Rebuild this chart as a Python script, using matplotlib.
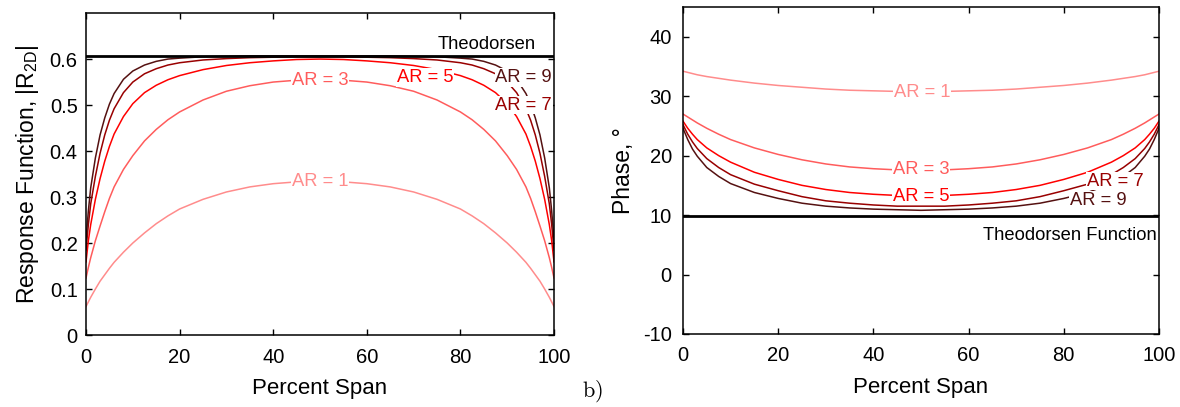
import numpy as np
import matplotlib
matplotlib.use("Agg")
import matplotlib.pyplot as plt

plt.rcParams['font.family'] = ['Liberation Sans', 'DejaVu Sans']
plt.rcParams['mathtext.default'] = 'regular'
plt.rcParams['axes.unicode_minus'] = False

# left panel: |R_2D| vs percent span
span_mag = [0, 0.5, 1, 2, 3, 4, 5, 6, 8, 10, 12.5, 15, 17.5, 20, 25, 30, 35, 40, 45, 50,
            55, 60, 65, 70, 75, 80, 82.5, 85, 87.5, 90, 92, 94, 95, 96, 97, 98, 99, 99.5, 100]
mag_ar1 = [0.062, 0.072, 0.082, 0.100, 0.117, 0.131, 0.145, 0.158, 0.180, 0.200, 0.222, 0.242, 0.259, 0.274,
           0.295, 0.311, 0.322, 0.329, 0.333, 0.335,
           0.333, 0.329, 0.322, 0.311, 0.295, 0.274, 0.259, 0.242, 0.222, 0.200, 0.180, 0.158, 0.145,
           0.131, 0.117, 0.100, 0.082, 0.072, 0.062]
mag_ar3 = [0.124, 0.147, 0.168, 0.205, 0.237, 0.268, 0.297, 0.322, 0.360, 0.390, 0.422, 0.447, 0.468, 0.485,
           0.511, 0.530, 0.542, 0.550, 0.554, 0.555,
           0.554, 0.550, 0.542, 0.530, 0.511, 0.485, 0.468, 0.447, 0.422, 0.390, 0.360, 0.322, 0.297,
           0.268, 0.237, 0.205, 0.168, 0.147, 0.124]
mag_ar5 = [0.159, 0.205, 0.240, 0.295, 0.340, 0.378, 0.410, 0.437, 0.475, 0.503, 0.527, 0.543, 0.555, 0.564,
           0.577, 0.586, 0.592, 0.596, 0.599, 0.600,
           0.599, 0.596, 0.592, 0.586, 0.577, 0.564, 0.555, 0.543, 0.527, 0.503, 0.475, 0.437, 0.410,
           0.378, 0.340, 0.295, 0.240, 0.205, 0.159]
mag_ar7 = [0.185, 0.240, 0.285, 0.345, 0.395, 0.435, 0.467, 0.492, 0.527, 0.550, 0.568, 0.579, 0.587, 0.592,
           0.598, 0.601, 0.603, 0.604, 0.605, 0.605,
           0.605, 0.604, 0.603, 0.601, 0.598, 0.592, 0.587, 0.579, 0.568, 0.550, 0.527, 0.492, 0.467,
           0.435, 0.395, 0.345, 0.285, 0.240, 0.185]
mag_ar9 = [0.207, 0.270, 0.320, 0.385, 0.435, 0.472, 0.502, 0.525, 0.556, 0.574, 0.587, 0.595, 0.600, 0.602,
           0.605, 0.606, 0.607, 0.607, 0.607, 0.607,
           0.607, 0.607, 0.607, 0.606, 0.605, 0.602, 0.600, 0.595, 0.587, 0.574, 0.556, 0.525, 0.502,
           0.472, 0.435, 0.385, 0.320, 0.270, 0.207]
theo_mag = 0.606

# right panel: phase (deg) vs percent span
span_ph = [0, 1, 2, 3, 5, 7.5, 10, 15, 20, 25, 30, 35, 40, 45, 50,
           55, 60, 65, 70, 75, 80, 85, 90, 92.5, 95, 97, 98, 99, 100]
ph_ar1 = [34.2, 34.0, 33.8, 33.6, 33.3, 33.0, 32.7, 32.2, 31.8, 31.5, 31.2, 31.0, 30.9, 30.8, 30.8,
          30.8, 30.9, 31.0, 31.2, 31.5, 31.8, 32.2, 32.7, 33.0, 33.3, 33.6, 33.8, 34.0, 34.2]
ph_ar3 = [27.0, 26.5, 26.0, 25.5, 24.6, 23.6, 22.7, 21.3, 20.2, 19.3, 18.6, 18.1, 17.8, 17.6, 17.6,
          17.6, 17.8, 18.1, 18.6, 19.3, 20.2, 21.3, 22.7, 23.6, 24.6, 25.5, 26.0, 26.5, 27.0]
ph_ar5 = [25.8, 24.6, 23.6, 22.7, 21.3, 20.0, 18.9, 17.2, 16.0, 15.0, 14.3, 13.8, 13.5, 13.3, 13.2,
          13.3, 13.5, 13.8, 14.3, 15.0, 16.0, 17.2, 18.9, 20.0, 21.3, 22.7, 23.6, 24.6, 25.8]
ph_ar7 = [25.2, 23.6, 22.3, 21.2, 19.5, 18.0, 16.8, 15.2, 14.1, 13.1, 12.4, 12.0, 11.7, 11.5, 11.5,
          11.5, 11.7, 12.0, 12.4, 13.1, 14.1, 15.2, 16.8, 18.0, 19.5, 21.2, 22.3, 23.6, 25.2]
ph_ar9 = [24.6, 22.7, 21.1, 19.9, 18.0, 16.5, 15.3, 13.8, 12.8, 12.0, 11.5, 11.2, 11.0, 10.9, 10.8,
          10.9, 11.0, 11.2, 11.5, 12.0, 12.8, 13.8, 15.3, 16.5, 18.0, 19.9, 21.1, 22.7, 24.6]
theo_ph = 9.8

labels = ['AR = 1', 'AR = 3', 'AR = 5', 'AR = 7', 'AR = 9']
colors = ['#ff8c8c', '#ff5c5c', '#ff0000', '#990000', '#551111']

fig = plt.figure(figsize=(11.8, 4.07), dpi=100)
ax1 = fig.add_axes([0.0729, 0.1769, 0.3966, 0.791])
ax2 = fig.add_axes([0.5788, 0.1794, 0.4034, 0.8034])

for ax in (ax1, ax2):
    ax.tick_params(direction='in', top=True, right=True, length=4, width=1, labelsize=14.5)
    ax.tick_params(axis='x', pad=9)
    for s in ax.spines.values():
        s.set_linewidth(1.1)
ax1.tick_params(axis='y', pad=6)
ax2.tick_params(axis='y', pad=8)

box = dict(facecolor='white', edgecolor='none', pad=0.5)

mags = [mag_ar1, mag_ar3, mag_ar5, mag_ar7, mag_ar9]
for m, c in zip(mags, colors):
    ax1.plot(span_mag, m, color=c, lw=1.1)
ax1.axhline(theo_mag, color='black', lw=2)
ax1.text(96, 0.632, 'Theodorsen', fontsize=13.2, ha='right', va='center')
# label positions (x, y) for each AR
mag_lab = [(50, 0.333), (50, 0.554), (72.4, 0.56), (93.5, 0.50), (93.5, 0.56)]
for (lx, ly), t, c in zip(mag_lab, labels, colors):
    ax1.text(lx, ly, t, color=c, fontsize=13.2, ha='center', va='center', bbox=box, zorder=5)
ax1.set_xlim(0, 100)
ax1.set_ylim(0, 0.7)
ax1.set_yticks([0, 0.1, 0.2, 0.3, 0.4, 0.5, 0.6])
ax1.set_yticklabels(['0', '0.1', '0.2', '0.3', '0.4', '0.5', '0.6'])
ax1.set_xticks([0, 20, 40, 60, 80, 100])
ax1.set_xlabel('Percent Span', fontsize=16, labelpad=8)
ax1.set_ylabel(r'Response Function, |R$_{2D}$|', fontsize=16.5, labelpad=6)

phs = [ph_ar1, ph_ar3, ph_ar5, ph_ar7, ph_ar9]
for p, c in zip(phs, colors):
    ax2.plot(span_ph, p, color=c, lw=1.1)
ax2.axhline(theo_ph, color='black', lw=2)
ax2.text(99.6, 6.5, 'Theodorsen Function', fontsize=13.2, ha='right', va='center')
ph_lab = [(50.2, 30.6), (50, 17.6), (50, 13.2), (90.8, 15.7), (87.2, 12.5)]
for (lx, ly), t, c in zip(ph_lab, labels, colors):
    ax2.text(lx, ly, t, color=c, fontsize=13.2, ha='center', va='center', bbox=box, zorder=5)
ax2.set_xlim(0, 100)
ax2.set_ylim(-10, 45)
ax2.set_yticks([-10, 0, 10, 20, 30, 40])
ax2.set_xticks([0, 20, 40, 60, 80, 100])
ax2.set_xlabel('Percent Span', fontsize=16, labelpad=8)
ax2.set_ylabel('Phase, °', fontsize=16.5, labelpad=6)

fig.text(0.5017, 0.040, r'$\mathrm{b)}$', fontsize=16, math_fontfamily='cm', ha='center', va='center')

fig.savefig('out.png', dpi=100)
